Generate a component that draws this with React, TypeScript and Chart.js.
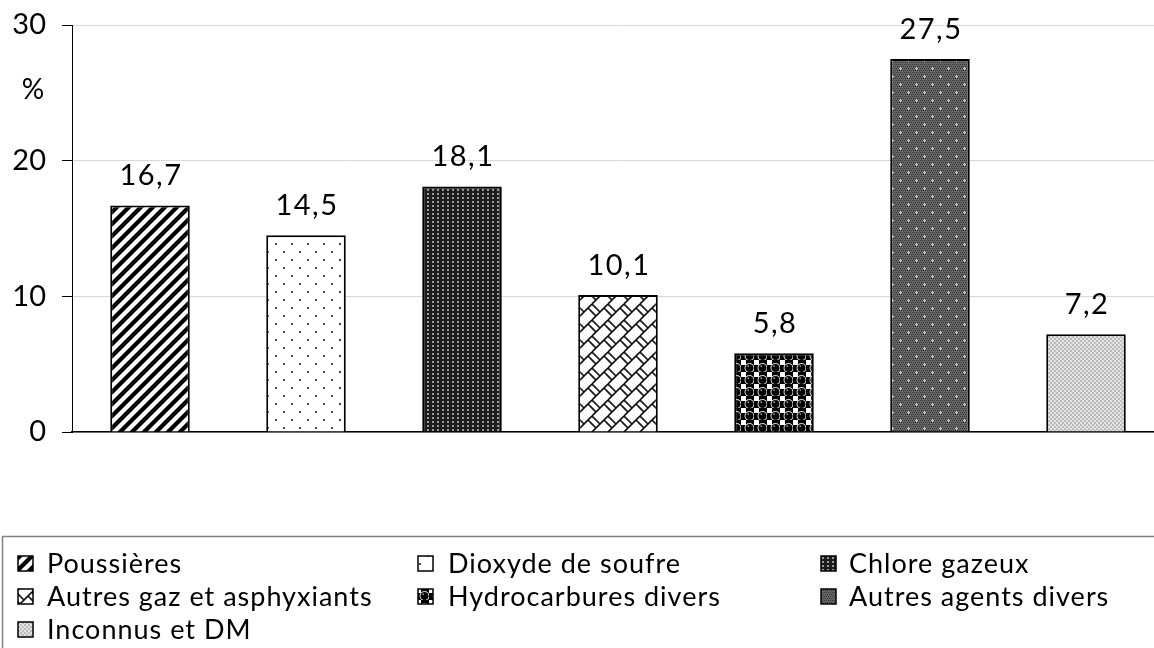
import React, { useEffect, useRef } from "react";
import { Chart, registerables } from "chart.js";

Chart.register(...registerables);

const categories = [
  "Poussières",
  "Dioxyde de soufre",
  "Chlore gazeux",
  "Autres gaz et asphyxiants",
  "Hydrocarbures divers",
  "Autres agents divers",
  "Inconnus et DM",
];
const values = [16.7, 14.5, 18.1, 10.1, 5.8, 27.5, 7.2];
const yTicks = [0, 10, 20, 30];
const unitLabel = "%";

const FONT = "Lato, 'Noto Sans', sans-serif";

function tile(w: number, h: number, draw: (c: CanvasRenderingContext2D) => void) {
  const cv = document.createElement("canvas");
  cv.width = w;
  cv.height = h;
  const c = cv.getContext("2d")!;
  draw(c);
  return cv;
}

function makePatterns(ctx: CanvasRenderingContext2D): CanvasPattern[] {
  const tiles: HTMLCanvasElement[] = [];
  // 1 diagonal stripes
  tiles.push(
    tile(12, 12, (c) => {
      c.fillStyle = "#fff";
      c.fillRect(0, 0, 12, 12);
      c.strokeStyle = "#000";
      c.lineWidth = 4.2;
      for (const o of [-12, 0, 12]) {
        c.beginPath();
        c.moveTo(o - 2, 14);
        c.lineTo(o + 14, -2);
        c.stroke();
      }
    })
  );
  // 2 sparse dots
  tiles.push(
    tile(16, 16, (c) => {
      c.fillStyle = "#fff";
      c.fillRect(0, 0, 16, 16);
      c.fillStyle = "#444";
      c.fillRect(3, 3, 2, 2);
      c.fillRect(11, 11, 2, 2);
    })
  );
  // 3 dense dark with light dots
  tiles.push(
    tile(5, 4, (c) => {
      c.fillStyle = "#1c1c1c";
      c.fillRect(0, 0, 5, 4);
      c.fillStyle = "#9a9a9a";
      c.fillRect(2, 1, 2, 2);
    })
  );
  // 4 trellis
  tiles.push(
    tile(16, 16, (c) => {
      c.fillStyle = "#fff";
      c.fillRect(0, 0, 16, 16);
      c.strokeStyle = "#111";
      c.lineWidth = 1.6;
      for (const ox of [-16, 0, 16]) {
        for (const oy of [-16, 0, 16]) {
          c.beginPath();
          c.moveTo(ox + 0, oy + 16);
          c.lineTo(ox + 16, oy + 0);
          c.stroke();
          c.beginPath();
          c.moveTo(ox + 0, oy + 0);
          c.lineTo(ox + 8, oy + 8);
          c.stroke();
          c.beginPath();
          c.moveTo(ox + 12, oy + 4);
          c.lineTo(ox + 20, oy + 12);
          c.stroke();
        }
      }
    })
  );
  // 5 spheres
  tiles.push(
    tile(13, 12, (c) => {
      c.fillStyle = "#000";
      c.fillRect(0, 0, 13, 12);
      c.fillStyle = "#fff";
      c.fillRect(0, 0, 5, 5);
      c.strokeStyle = "#d0d0d0";
      c.lineWidth = 1.2;
      c.beginPath();
      c.arc(8.5, 8, 4.4, 0, Math.PI * 2);
      c.stroke();
      c.fillStyle = "#000";
      c.beginPath();
      c.arc(8.5, 8, 3.8, 0, Math.PI * 2);
      c.fill();
      c.fillStyle = "#a0a0a0";
      c.fillRect(6.5, 5.5, 1.5, 1.5);
    })
  );
  // 6 gray with plus dots
  tiles.push(
    tile(16, 16, (c) => {
      c.fillStyle = "#646464";
      c.fillRect(0, 0, 16, 16);
      c.fillStyle = "#383838";
      for (let x = 0; x < 16; x += 2)
        for (let y = 0; y < 16; y += 2) c.fillRect(x + ((y / 2) % 2), y, 1, 1);
      c.fillStyle = "#c8c8c8";
      for (const [x, y] of [[4, 4], [12, 12]]) {
        c.fillRect(x - 1, y, 3, 1);
        c.fillRect(x, y - 1, 1, 3);
      }
    })
  );
  // 7 light checker
  tiles.push(
    tile(4, 4, (c) => {
      c.fillStyle = "#e2e2e2";
      c.fillRect(0, 0, 4, 4);
      c.fillStyle = "#bdbdbd";
      c.fillRect(0, 0, 2, 2);
      c.fillRect(2, 2, 2, 2);
    })
  );
  return tiles.map((t) => ctx.createPattern(t, "repeat")!);
}

export default function App() {
  const ref = useRef<HTMLCanvasElement>(null);

  useEffect(() => {
    const canvas = ref.current!;
    const ctx = canvas.getContext("2d")!;
    const patterns = makePatterns(ctx);

    const labelsPlugin = {
      id: "valueLabels",
      afterDatasetsDraw(chart: any) {
        const c = chart.ctx;
        const meta = chart.getDatasetMeta(0);
        c.save();
        c.font = `29px ${FONT}`;
        (c as any).letterSpacing = "1.5px";
        c.fillStyle = "#000";
        c.textAlign = "center";
        c.textBaseline = "alphabetic";
        meta.data.forEach((bar: any, i: number) => {
          c.fillText(values[i].toFixed(1).replace(".", ","), bar.x + 1, bar.y - 20);
        });
        c.restore();
      },
    };

    const legendPlugin = {
      id: "boxLegend",
      afterDraw(chart: any) {
        const c = chart.ctx;
        c.save();
        c.strokeStyle = "#808080";
        c.lineWidth = 1.5;
        c.strokeRect(2.5, 536.5, 2000, 300);
        // unit label
        c.font = `28px ${FONT}`;
        c.fillStyle = "#000";
        c.textAlign = "center";
        c.textBaseline = "middle";
        c.fillText(unitLabel, 33, 90);

        const colIcon = [18, 418, 821];
        const colText = [47, 448, 849];
        const rowY = [564, 597, 630];
        c.textAlign = "left";
        categories.forEach((name, i) => {
          const col = i % 3;
          const row = Math.floor(i / 3);
          const x = colIcon[col];
          const y = rowY[row];
          c.fillStyle = patterns[i];
          c.fillRect(x, y - 8, 15, 15);
          c.strokeStyle = "#000";
          c.lineWidth = 1.5;
          c.strokeRect(x, y - 8, 15, 15);
          c.fillStyle = "#000";
          c.font = `27px ${FONT}`;
          (c as any).letterSpacing = "1px";
          c.fillText(name, colText[col], y);
        });
        c.restore();
      },
    };

    const chart = new Chart(canvas, {
      type: "bar",
      data: {
        labels: categories,
        datasets: [
          {
            data: values,
            backgroundColor: patterns,
            borderColor: "#000",
            borderWidth: 2,
            barPercentage: 0.51,
            categoryPercentage: 1,
          },
        ],
      },
      options: {
        responsive: false,
        animation: false,
        layout: { padding: { top: 25, right: 0, bottom: 216, left: 0 } },
        plugins: { legend: { display: false }, tooltip: { enabled: false } },
        scales: {
          x: {
            ticks: { display: false },
            grid: { display: false, drawTicks: false },
            border: { display: true, color: "#000", width: 1.5 },
            afterFit(scale: any) {
              scale.height = 0;
            },
          },
          y: {
            min: 0,
            max: 30,
            afterBuildTicks(scale: any) {
              scale.ticks = yTicks.map((v) => ({ value: v }));
            },
            ticks: {
              font: { family: FONT, size: 29 },
              color: "#000",
              padding: 16,
            },
            grid: {
              color: "#d9d9d9",
              tickColor: "#000",
              tickLength: 10,
              lineWidth: 1,
            },
            border: { display: true, color: "#000", width: 1 },
            afterFit(scale: any) {
              scale.width = 72;
              scale.paddingTop = 0;
              scale.paddingBottom = 0;
            },
          },
        },
      },
      plugins: [labelsPlugin, legendPlugin],
    });
    return () => chart.destroy();
  }, []);

  return (
    <div
      style={{
        position: "fixed",
        left: 0,
        top: 0,
        width: 1154,
        height: 648,
        overflow: "hidden",
        background: "#fff",
      }}
    >
      <canvas ref={ref} width={1164} height={648} style={{ display: "block" }} />
    </div>
  );
}
